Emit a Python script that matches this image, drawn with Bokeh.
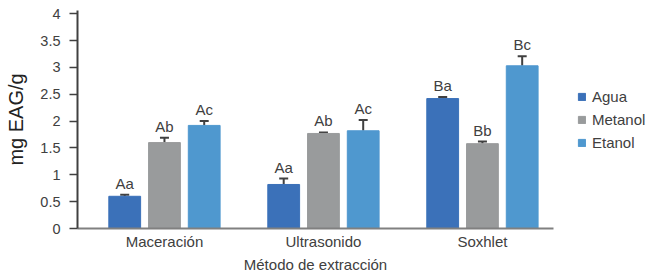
from bokeh.plotting import figure
from bokeh.models import (ColumnDataSource, Range1d, FixedTicker, Whisker, TeeHead,
                          LabelSet, Legend, LegendItem)
from bokeh.core.properties import value
from bokeh.embed import file_html
from bokeh.resources import INLINE

categories = ["Maceración", "Ultrasonido", "Soxhlet"]
series = ["Agua", "Metanol", "Etanol"]
colors = ["#3b71b9", "#999b9c", "#4f98cf"]
values = {
    "Agua":    [0.60, 0.82, 2.42],
    "Metanol": [1.60, 1.77, 1.58],
    "Etanol":  [1.92, 1.82, 3.03],
}
errors = {
    "Agua":    [0.03, 0.11, 0.03],
    "Metanol": [0.09, 0.02, 0.04],
    "Etanol":  [0.08, 0.20, 0.18],
}
letters = {
    "Agua":    ["Aa", "Aa", "Ba"],
    "Metanol": ["Ab", "Ab", "Bb"],
    "Etanol":  ["Ac", "Ac", "Bc"],
}
y_ticks = [0, 0.5, 1, 1.5, 2, 2.5, 3, 3.5, 4]
offsets = [-0.25, 0.0, 0.25]

FONT = "Liberation Sans"
TXT = "#404040"

p = figure(frame_width=476, frame_height=218, output_backend="svg", toolbar_location=None,
           x_range=Range1d(-0.547, 2.447), y_range=Range1d(0, 4.06),
           min_border_left=77, min_border_right=99, min_border_top=10,
           min_border_bottom=45)
p.outline_line_color = None
p.xgrid.grid_line_color = None
p.ygrid.grid_line_color = None
p.background_fill_color = "white"

items = []
for s, c, off in zip(series, colors, offsets):
    xs = [i + off for i in range(len(categories))]
    tops = values[s]
    uppers = [v + e for v, e in zip(values[s], errors[s])]
    src = ColumnDataSource(dict(x=xs, top=tops, upper=uppers, lab=letters[s]))
    r = p.vbar(x="x", top="top", width=0.2, color=c, source=src)
    items.append(LegendItem(label=s, renderers=[r]))
    w = Whisker(base="x", lower="top", upper="upper", source=src,
                line_color=TXT, line_width=2,
                upper_head=TeeHead(size=9, line_color=TXT, line_width=2),
                lower_head=None)
    p.add_layout(w)
    lbl = LabelSet(x="x", y="upper", text="lab", source=src, text_align="center",
                   text_baseline="alphabetic", y_offset=6, text_font=value(FONT),
                   text_font_size=value("15px"), text_color=TXT)
    p.add_layout(lbl)

legend = Legend(items=items, location=(24, 77), padding=0, margin=0,
                border_line_color=None, background_fill_alpha=0,
                glyph_width=9, glyph_height=9, label_height=18, spacing=5,
                label_standoff=6, label_text_font=FONT,
                label_text_font_size="15px", label_text_color=TXT)
p.add_layout(legend, "right")

# x axis
p.xaxis.ticker = FixedTicker(ticks=list(range(len(categories))))
p.xaxis.major_label_overrides = {i: c for i, c in enumerate(categories)}
p.xaxis.major_tick_line_color = None
p.xaxis.minor_tick_line_color = None
p.xaxis.axis_line_color = "#808080"
p.xaxis.axis_line_width = 2
p.xaxis.major_label_text_font = FONT
p.xaxis.major_label_text_font_size = "15px"
p.xaxis.major_label_text_color = TXT
p.xaxis.major_label_standoff = -2
p.xaxis.axis_label = "Método de extracción"
p.xaxis.axis_label_text_font = FONT
p.xaxis.axis_label_text_font_size = "15px"
p.xaxis.axis_label_text_font_style = "normal"
p.xaxis.axis_label_text_color = TXT
p.xaxis.axis_label_standoff = 3

# y axis
p.yaxis.ticker = FixedTicker(ticks=y_ticks)
p.yaxis.major_label_overrides = {t: (str(t) if t % 1 else str(int(t))) for t in y_ticks}
p.yaxis.minor_tick_line_color = None
p.yaxis.major_tick_out = 8
p.yaxis.major_tick_in = 0
p.yaxis.major_tick_line_color = TXT
p.yaxis.major_tick_line_width = 1.5
p.yaxis.axis_line_color = TXT
p.yaxis.axis_line_width = 2
p.yaxis.major_label_text_font = FONT
p.yaxis.major_label_text_font_size = "14.5px"
p.yaxis.major_label_text_color = TXT
p.yaxis.major_label_standoff = 9
p.yaxis.axis_label = "mg EAG/g"
p.yaxis.axis_label_text_font = FONT
p.yaxis.axis_label_text_font_size = "20px"
p.yaxis.axis_label_text_font_style = "normal"
p.yaxis.axis_label_text_color = "#222222"
p.yaxis.axis_label_standoff = 10

open("out.html", "w").write(file_html(p, INLINE))
